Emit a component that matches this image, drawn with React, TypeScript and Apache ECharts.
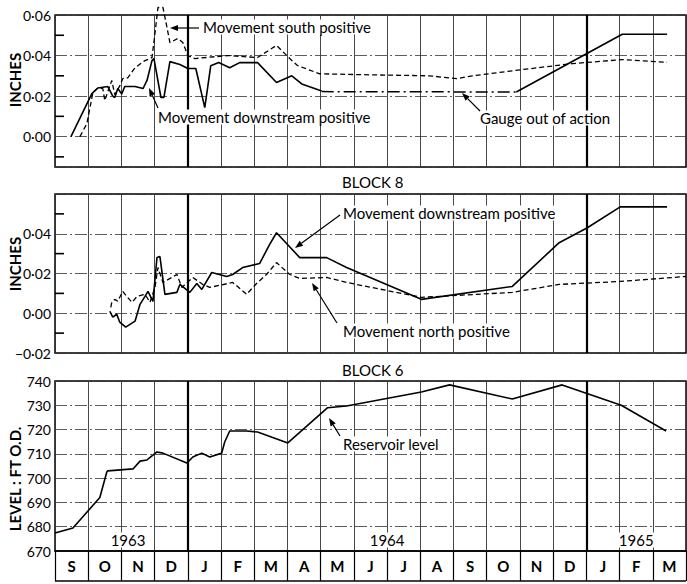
import React, { useEffect, useRef } from 'react';
import * as echarts from 'echarts';

// x values: months elapsed since 1 September 1963
const months = ['S', 'O', 'N', 'D', 'J', 'F', 'M', 'A', 'M', 'J', 'J', 'A', 'S', 'O', 'N', 'D', 'J', 'F', 'M'];
const years = [
  { label: '1963', at: 2.2 },
  { label: '1964', at: 10.0 },
  { label: '1965', at: 17.5 },
];
const janBoundaries = [4, 16];
const levelTicks = [670, 680, 690, 700, 710, 720, 730, 740];
const upperMinorTicks = [-0.01, 0.01, 0.03, 0.05];
const middleMinorTicks = [-0.01, 0.01, 0.03, 0.05];

// Upper panel (Block 8 upper gauge)
const upperDownstream: [number, number][] = [
  [0.48, 0], [1.11, 0.0212], [1.29, 0.024], [1.59, 0.0247], [1.74, 0.02], [1.8, 0.0193],
  [1.89, 0.0237], [2.01, 0.021], [2.1, 0.0247], [2.41, 0.0247], [2.65, 0.0237], [2.77, 0.0277],
  [2.92, 0.0375], [2.98, 0.0385], [3.19, 0.0193], [3.28, 0.0193], [3.46, 0.037], [3.76, 0.0356],
  [4.0, 0.0336], [4.24, 0.0336], [4.51, 0.0143], [4.69, 0.035], [4.93, 0.0366], [5.26, 0.034],
  [5.56, 0.0365], [6.1, 0.0365], [6.67, 0.0267], [7.13, 0.03], [7.43, 0.026], [8.03, 0.0225],
];
const upperGaugeOut: [number, number][] = [[8.03, 0.0222], [13.89, 0.022]];
const upperDownstreamLate: [number, number][] = [[13.89, 0.022], [17.08, 0.0505], [18.43, 0.0505]];
const upperSouth: [number, number][] = [
  [0.75, 0], [0.96, 0.0064], [1.14, 0.0217], [1.29, 0.024], [1.44, 0.0237], [1.5, 0.0178],
  [1.65, 0.025], [1.71, 0.0277], [1.8, 0.0207], [1.95, 0.025], [2.04, 0.0286], [2.19, 0.029],
  [2.41, 0.034], [2.71, 0.0375], [2.92, 0.039], [3.01, 0.0509], [3.1, 0.0637], [3.25, 0.0637],
  [3.37, 0.054], [3.46, 0.0464], [3.7, 0.0484], [3.85, 0.0464], [4.0, 0.04], [4.21, 0.0385],
  [5.2, 0.04], [6.1, 0.039], [6.67, 0.045], [7.07, 0.0385], [7.31, 0.035], [7.97, 0.031],
  [9.08, 0.0306], [11.27, 0.03], [12.09, 0.0286], [12.57, 0.03], [14.04, 0.033], [15.57, 0.036],
  [17.08, 0.038], [18.43, 0.0366],
];

// Middle panel (Block 8 lower gauge)
const middleDownstream: [number, number][] = [
  [1.65, 0.001], [1.74, -0.002], [1.86, -0.0005], [1.95, -0.0045], [2.13, -0.007], [2.41, -0.004],
  [2.56, 0.0045], [2.71, 0.0085], [2.8, 0.011], [2.95, 0.006], [3.07, 0.028], [3.16, 0.0285],
  [3.31, 0.0095], [3.67, 0.0105], [3.76, 0.0145], [4.06, 0.0105], [4.27, 0.015], [4.42, 0.012],
  [4.72, 0.0205], [5.17, 0.0185], [5.35, 0.0195], [5.65, 0.023], [6.16, 0.025], [6.46, 0.0345],
  [6.67, 0.0405], [7.37, 0.028], [8.18, 0.028], [8.78, 0.023], [11.03, 0.007], [13.77, 0.0135],
  [15.18, 0.0355], [16.03, 0.043], [17.02, 0.0535], [18.43, 0.0535],
];
const middleNorth: [number, number][] = [
  [1.68, 0.003], [1.71, 0.0055], [1.8, 0.007], [1.89, 0.006], [2.04, 0.011], [2.16, 0.0085],
  [2.32, 0.0055], [2.47, 0.0085], [2.71, 0.0095], [2.86, 0.0055], [3.01, 0.013], [3.1, 0.023],
  [3.25, 0.0155], [3.67, 0.0195], [3.82, 0.013], [4.15, 0.018], [4.45, 0.0145], [4.66, 0.013],
  [5.35, 0.0155], [5.77, 0.0095], [6.07, 0.015], [6.37, 0.0195], [6.67, 0.0255], [7.07, 0.0195],
  [7.37, 0.0175], [8.18, 0.018], [8.78, 0.0155], [11.03, 0.008], [13.77, 0.0105], [15.18, 0.0145],
  [17.02, 0.016], [19.0, 0.0185],
];

// Bottom panel: reservoir level, ft O.D.
const reservoirLevel: [number, number][] = [
  [0, 677.4], [0.54, 679.5], [1.35, 692], [1.56, 702.5], [1.59, 703], [2.35, 703.8], [2.56, 707],
  [2.77, 707.5], [3.07, 710.8], [3.25, 710.3], [3.97, 706.2], [4.15, 708.7], [4.42, 710.3],
  [4.66, 708.7], [5.02, 710.3], [5.11, 714.9], [5.26, 719.4], [5.77, 719.4], [6.1, 719],
  [7.01, 714.5], [8.21, 729], [8.78, 729.7], [11.03, 735.5], [11.88, 738.4], [13.77, 732.6],
  [15.27, 738.4], [17.05, 730], [18.4, 719.4],
];

const FONT = 'Lato, "Open Sans", sans-serif';

const fmtInches = (v: number) => {
  if (Math.abs(v * 50 - Math.round(v * 50)) > 1e-6) return '';
  const r = Math.round(v * 100) / 100;
  return (r < 0 ? '−' : '') + Math.abs(r).toFixed(2).replace('.', '·');
};

function arrow(x1: number, y1: number, x2: number, y2: number): any[] {
  const a = Math.atan2(y2 - y1, x2 - x1);
  const L = 8, W = 3;
  const bx = x2 - L * Math.cos(a), by = y2 - L * Math.sin(a);
  const px = -Math.sin(a) * W, py = Math.cos(a) * W;
  return [
    { type: 'line', z: 100, shape: { x1, y1, x2: bx, y2: by }, style: { stroke: '#000', lineWidth: 1.2 } },
    {
      type: 'polygon', z: 100,
      shape: { points: [[x2, y2], [bx + px, by + py], [bx - px, by - py]] },
      style: { fill: '#000' },
    },
  ];
}

function label(text: string, x: number, y: number, align = 'left', size = 15, bg = true): any {
  return {
    type: 'text', z: 100, x, y,
    style: {
      text, fill: '#000', font: `${size}px ${FONT}`, align, verticalAlign: 'middle',
      backgroundColor: bg ? '#fff' : undefined, padding: bg ? [0, 2] : 0,
    },
  };
}

function vlabel(text: string, x: number, y: number): any {
  return {
    type: 'text', z: 100, x, y, rotation: Math.PI / 2,
    style: { text, fill: '#000', font: `bold 15px ${FONT}`, align: 'center', verticalAlign: 'middle' },
  };
}

// short inward tick marks at the odd hundredths, drawn as thin rectangle symbols on the left edge
function minorTickSeries(axisIndex: number, values: number[]): any {
  return {
    type: 'scatter', xAxisIndex: axisIndex, yAxisIndex: axisIndex, silent: true, clip: false, z: 10,
    data: values.map((v) => [0, v]),
    symbol: 'rect', symbolSize: [9, 1.6], symbolOffset: [4.5, 0],
    itemStyle: { color: '#000', opacity: 1 },
  };
}

const hSplit = { show: true, lineStyle: { color: '#333', width: 0.8, type: [12, 3, 2, 3] as any } };
const vSplit = { show: true, lineStyle: { color: '#333', width: 0.9, type: 'solid' as any } };
const janMark = {
  silent: true, symbol: 'none', label: { show: false },
  lineStyle: { color: '#000', width: 2.2, type: 'solid' },
  data: janBoundaries.map((b) => ({ xAxis: b })),
};

export default function App() {
  const ref = useRef<HTMLDivElement>(null);
  useEffect(() => {
    document.body.style.margin = '0';
    if (!ref.current) return;
    const chart = echarts.init(ref.current, undefined, { renderer: 'svg' });
    const grids = [
      { left: 55, top: 15, width: 631, height: 152 },
      { left: 55, top: 194, width: 631, height: 159 },
      { left: 55, top: 381, width: 631, height: 170 },
    ].map((g) => ({ ...g, show: true, borderColor: '#000', borderWidth: 1.5, backgroundColor: 'transparent' }));

    const valueX = (gi: number) => ({
      type: 'value', gridIndex: gi, min: 0, max: months.length, interval: 1, position: 'bottom',
      axisLabel: { show: false }, axisTick: { show: false }, axisLine: { show: false }, splitLine: vSplit,
    });
    const axisLabelStyle = { color: '#000', fontFamily: FONT, fontSize: 14 };

    const option: any = {
      animation: false,
      backgroundColor: '#fff',
      grid: grids,
      xAxis: [
        valueX(0), valueX(1), valueX(2),
        {
          type: 'category', gridIndex: 2, data: months, position: 'bottom', boundaryGap: true,
          axisLine: { show: true, lineStyle: { color: '#000', width: 1.5 } },
          axisTick: { show: true, length: 30, alignWithLabel: false, lineStyle: { color: '#000', width: 1.2 } },
          axisLabel: { ...axisLabelStyle, fontWeight: 'bold', fontSize: 15, margin: 7, interval: 0 },
          splitLine: { show: false },
        },
      ],
      yAxis: [
        {
          type: 'value', gridIndex: 0, min: -0.015, max: 0.06, splitNumber: 4,
          axisLine: { show: false }, axisTick: { show: false },
          axisLabel: { ...axisLabelStyle, formatter: fmtInches, margin: 4 },
          splitLine: hSplit,
        },
        {
          type: 'value', gridIndex: 1, min: -0.02, max: 0.06, interval: 0.02,
          axisLine: { show: false }, axisTick: { show: false },
          axisLabel: { ...axisLabelStyle, formatter: (v: number) => (v > 0.05 ? '' : fmtInches(v)), margin: 4 },
          splitLine: hSplit,
        },
        {
          type: 'value', gridIndex: 2, min: levelTicks[0], max: levelTicks[levelTicks.length - 1],
          interval: levelTicks[1] - levelTicks[0],
          axisLine: { show: false }, axisTick: { show: false },
          axisLabel: { ...axisLabelStyle, margin: 4 },
          splitLine: hSplit,
        },
      ],
      series: [
        {
          type: 'line', xAxisIndex: 0, yAxisIndex: 0, data: upperDownstream, symbol: 'none', clip: false,
          lineStyle: { color: '#000', width: 1.6 }, markLine: janMark, z: 3,
        },
        {
          type: 'line', xAxisIndex: 0, yAxisIndex: 0, data: upperGaugeOut, symbol: 'none', clip: false,
          lineStyle: { color: '#000', width: 1.5, type: [12, 4, 2, 4] }, z: 3,
        },
        {
          type: 'line', xAxisIndex: 0, yAxisIndex: 0, data: upperDownstreamLate, symbol: 'none', clip: false,
          lineStyle: { color: '#000', width: 1.6 }, z: 3,
        },
        {
          type: 'line', xAxisIndex: 0, yAxisIndex: 0, data: upperSouth, symbol: 'none', clip: false,
          lineStyle: { color: '#000', width: 1.3, type: [5, 3] }, z: 3,
        },
        {
          type: 'line', xAxisIndex: 1, yAxisIndex: 1, data: middleDownstream, symbol: 'none', clip: false,
          lineStyle: { color: '#000', width: 1.6 }, markLine: janMark, z: 3,
        },
        {
          type: 'line', xAxisIndex: 1, yAxisIndex: 1, data: middleNorth, symbol: 'none', clip: false,
          lineStyle: { color: '#000', width: 1.3, type: [5, 3] }, z: 3,
        },
        {
          type: 'line', xAxisIndex: 2, yAxisIndex: 2, data: reservoirLevel, symbol: 'none', clip: false,
          lineStyle: { color: '#000', width: 1.6 }, markLine: janMark, z: 3,
        },
        minorTickSeries(0, upperMinorTicks),
        minorTickSeries(1, middleMinorTicks),
      ],
      graphic: [
        vlabel('INCHES', 15, 80),
        vlabel('INCHES', 15, 264),
        vlabel('LEVEL : FT O.D.', 15, 479),
        label('Movement south positive', 201, 27),
        ...arrow(199, 28, 170, 28),
        label('Movement downstream positive', 156, 117),
        ...arrow(158, 108, 149, 88),
        label('Gauge out of action', 478, 118),
        ...arrow(480, 111, 462, 93),
        label('BLOCK 8', 342, 182, 'left', 15, false),
        label('Movement downstream positive', 341, 213),
        ...arrow(340, 215, 295, 248),
        label('Movement north positive', 341, 331),
        ...arrow(337, 323, 312, 283),
        label('BLOCK 6', 342, 370, 'left', 15, false),
        label('Reservoir level', 341, 444),
        ...arrow(340, 436, 329, 418),
        ...years.map((yv) => label(yv.label, 55 + (yv.at / months.length) * 631, 540, 'center', 15)),
        {
          type: 'line', z: 100, shape: { x1: 55, y1: 581, x2: 686, y2: 581 },
          style: { stroke: '#000', lineWidth: 1.5 },
        },
      ],
    };
    chart.setOption(option);
    return () => chart.dispose();
  }, []);
  return <div ref={ref} style={{ width: 687, height: 584 }} />;
}
